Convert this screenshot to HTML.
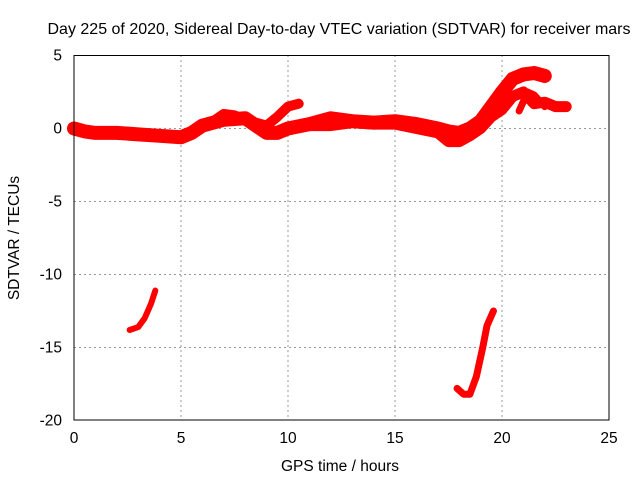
<!DOCTYPE html>
<html><head><meta charset="utf-8"><style>
body{margin:0;background:#fff}
svg{display:block;font-family:"Liberation Sans",sans-serif}
</style></head><body>
<svg id="c" width="640" height="480">
<rect width="640" height="480" fill="#fff"/>
<text x="339" y="34" font-size="16" text-anchor="middle" textLength="583" lengthAdjust="spacingAndGlyphs">Day 225 of 2020, Sidereal Day-to-day VTEC variation (SDTVAR) for receiver mars</text>
<text x="340" y="471" font-size="15.5" text-anchor="middle">GPS time / hours</text>
<text transform="translate(19,238) rotate(-90)" font-size="15.5" text-anchor="middle">SDTVAR / TECUs</text>
<g id="grid"></g><g id="marks"></g>
<rect x="74" y="55.5" width="535" height="364.5" fill="none" stroke="#000"/>
</svg>
<script>
const xTicks=[0,5,10,15,20,25];
const yTicks=[5,0,-5,-10,-15,-20];
const seriesA=[[0,0],[0.5,-0.2],[1,-0.3],[2,-0.3],[3,-0.4],[4,-0.5],[5,-0.6],[5.5,-0.3],[6,0.2],[7,0.6],[8,0.7],[8.5,0.2],[9,-0.3],[9.5,-0.3],[10,0],[11,0.3],[12,0.7],[13,0.5],[14,0.4],[15,0.5],[16,0.3],[17,0],[17.5,-0.2],[18,-0.3],[18.5,0],[19,0.5],[19.5,1.5],[20,2.5],[20.5,3.4],[21,3.7],[21.5,3.8],[22,3.6]];
const seriesB=[[6.5,0.5],[7,1],[7.5,0.9],[8,0.6],[9,0.2],[9.5,0.8],[10,1.5],[10.5,1.7]];
const seriesC=[[11,0.2],[12,0.2],[13,0.4],[14,0.3],[15,0.3],[16,0.0],[17,-0.3],[17.5,-0.9],[18,-0.9],[18.5,-0.5],[19,0],[19.5,0.8],[20,1.3],[20.5,2.2],[21,2.5],[21.5,1.7],[22,1.8],[22.5,1.5],[23,1.5]];
const seriesD=[[20.8,1.2],[21.2,2.5],[21.5,2.3],[22,1.5]];
const seriesE=[[2.6,-13.8],[3.0,-13.6],[3.3,-13],[3.6,-12],[3.8,-11.1]];
const seriesF=[[17.9,-17.8],[18.2,-18.2],[18.5,-18.2],[18.8,-17],[19.1,-15],[19.3,-13.5],[19.6,-12.5]];
const X=v=>74+v*(535/25), Y=v=>128.5-v*(73/5);
const ns="http://www.w3.org/2000/svg";
const g=document.getElementById('grid'), m=document.getElementById('marks');
function mk(t,a,p){const e=document.createElementNS(ns,t);for(const k in a)e.setAttribute(k,a[k]);p.appendChild(e);return e;}
xTicks.forEach(t=>{
 if(t>0&&t<25){const l=mk('line',{x1:X(t),x2:X(t),y1:55,y2:420,stroke:'#999','stroke-dasharray':'2,3'},g);
 
 }
 const tx=mk('text',{x:X(t),y:443,'font-size':15.5,'text-anchor':'middle'},g);tx.textContent=t;
 
 
});
yTicks.forEach(t=>{
 if(t<5&&t>-20){const l=mk('line',{x1:74,x2:609,y1:Y(t),y2:Y(t),stroke:'#999','stroke-dasharray':'2,3'},g);
 
 }
 const tx=mk('text',{x:62,y:Y(t)+5,'font-size':15.5,'text-anchor':'end'},g);tx.textContent=t;
 
 
});
function draw(s,w,name){
 const p=mk('polyline',{points:s.map(d=>X(d[0])+','+Y(d[1])).join(' '),fill:'none',stroke:'#f00','stroke-width':w,'stroke-linejoin':'round','stroke-linecap':'round'},m);
 
 
}
draw(seriesA,14,'series-main-band');
draw(seriesB,10,'series-upper-branch');
draw(seriesC,11,'series-late-branch');
draw(seriesD,7,'series-loop');
draw(seriesE,6,'series-low-segment-1');
draw(seriesF,7,'series-low-segment-2');
</script>
</body></html>
